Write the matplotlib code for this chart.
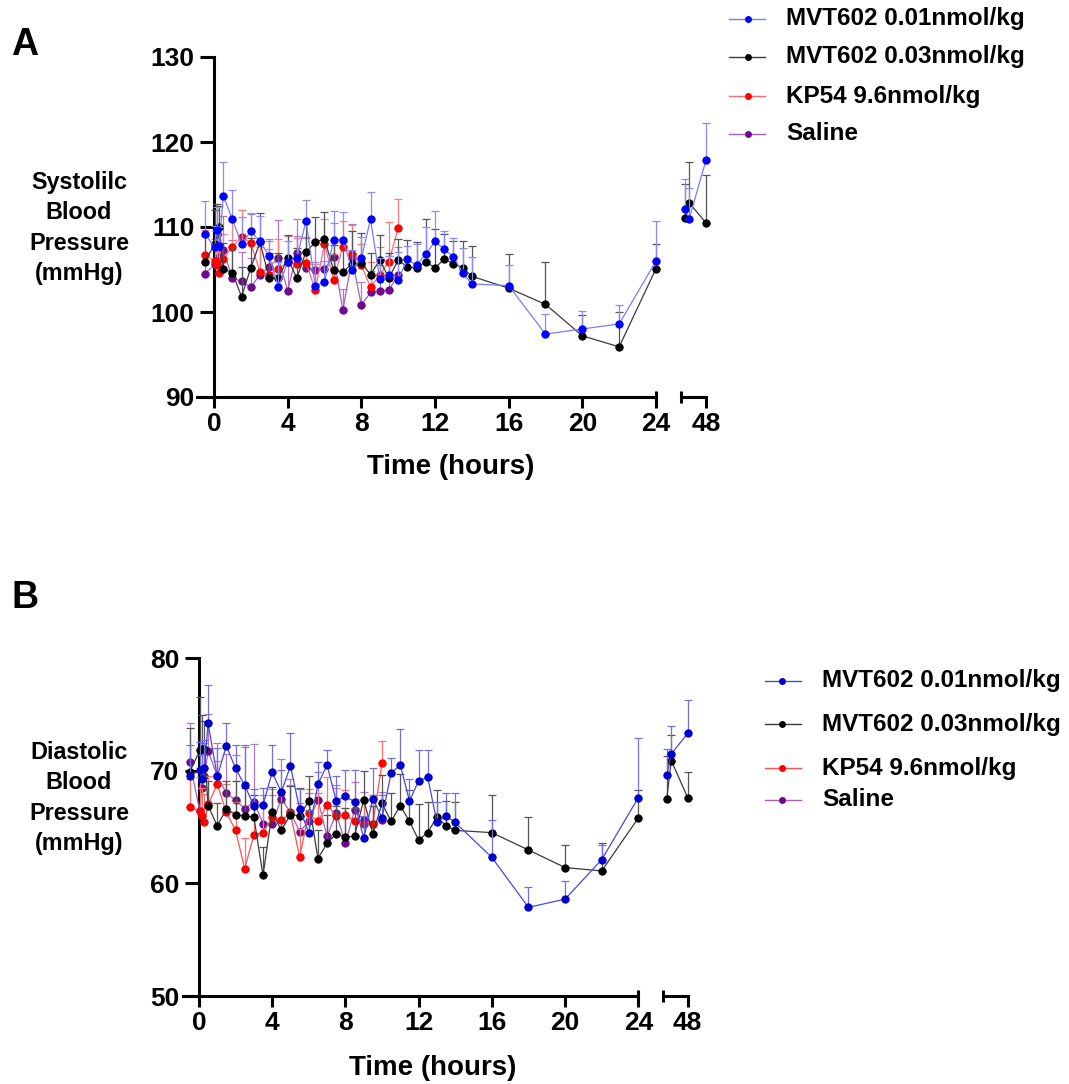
import numpy as np
import matplotlib
matplotlib.use("Agg")
import matplotlib.pyplot as plt
from matplotlib.lines import Line2D

plt.rcParams['font.family'] = ['Liberation Sans', 'DejaVu Sans']
plt.rcParams['font.weight'] = 'bold'
plt.rcParams['axes.linewidth'] = 2.2

# ---------------- data ----------------
series_names = ["MVT602 0.01nmol/kg", "MVT602 0.03nmol/kg", "KP54 9.6nmol/kg", "Saline"]

hours = [-0.5, 0.05, 0.15, 0.3, 0.5, 1.0, 1.5, 2.0, 2.5, 3.0, 3.5, 4.0, 4.5, 5.0,
         5.5, 6.0, 6.5, 7.0, 7.5, 8.0, 8.5, 9.0, 9.5, 10.0, 10.5, 11.0, 11.5, 12.0,
         12.5, 13.0, 13.5, 14.0, 16.0, 18.0, 20.0, 22.0, 24.0]
hours_short = hours[:24]
hours_late = [46.85, 47.1, 48.0]

# Systolic blood pressure (mmHg), mean and SEM
sbp_mvt001 = [109.2, 107.6, 109.6, 107.8, 113.7, 110.9, 108.0, 109.5, 108.3, 106.6, 102.9, 105.9,
              106.4, 110.7, 103.1, 103.5, 108.5, 108.5, 105.0, 106.3, 110.9, 103.9, 104.3, 103.8,
              106.2, 105.5, 106.8, 108.3, 107.4, 106.5, 104.6, 103.3, 103.1, 97.4, 98.0, 98.6, 106.0]
sbp_mvt001_sem = [3.9, 2.5, 2.8, 2.2, 4.0, 3.5, 3.2, 2.0, 3.0, 2.0, 3.0, 2.5, 2.5, 2.5, 2.8, 2.5,
                  3.4, 3.3, 2.3, 2.5, 3.2, 2.5, 2.3, 3.3, 1.6, 2.5, 3.2, 3.6, 2.1, 2.2, 2.9, 3.2,
                  2.4, 2.4, 2.1, 2.2, 4.7]
sbp_mvt003 = [105.9, 108.0, 109.2, 110.0, 105.1, 104.6, 101.8, 105.2, 108.2, 104.0, 104.0, 106.3,
              104.0, 107.1, 108.2, 108.6, 104.9, 104.7, 105.7, 105.8, 104.4, 106.1, 104.0, 106.1,
              105.3, 105.2, 105.9, 105.2, 106.2, 105.7, 105.2, 104.2, 102.8, 100.9, 97.2, 95.9, 105.1]
sbp_mvt003_sem = [3.0, 4.0, 3.5, 2.5, 3.0, 3.0, 3.5, 3.5, 3.4, 3.0, 3.0, 2.8, 3.5, 3.5, 3.0, 3.2,
                  3.0, 3.5, 3.8, 3.5, 2.5, 3.0, 3.0, 2.5, 3.2, 3.0, 5.1, 4.6, 3.0, 2.7, 3.1, 3.6,
                  4.0, 5.0, 2.4, 4.1, 2.9]
sbp_kp54 = [106.7, 106.0, 105.5, 104.6, 106.2, 107.7, 108.8, 108.1, 104.7, 104.4, 105.1, 105.9,
            105.7, 105.8, 102.6, 108.0, 103.8, 107.7, 106.8, 105.5, 102.9, 104.4, 105.9, 109.9]
sbp_kp54_sem = [3.0, 3.5, 3.0, 2.5, 3.0, 3.0, 3.2, 3.5, 3.0, 3.0, 3.5, 3.0, 3.0, 3.0, 3.0, 3.0,
                3.0, 3.0, 3.4, 2.5, 3.0, 3.2, 4.7, 3.4]
sbp_saline = [104.5, 105.6, 106.0, 106.5, 107.3, 104.0, 103.6, 102.9, 104.4, 105.3, 106.4, 102.5,
              106.9, 105.2, 105.0, 105.1, 106.5, 100.2, 106.3, 100.8, 102.3, 102.5, 102.6, 104.4]
sbp_saline_sem = [2.5, 3.0, 3.0, 3.5, 4.0, 4.5, 3.5, 3.5, 4.0, 3.0, 4.4, 3.5, 4.1, 3.5, 3.5, 3.0,
                  4.0, 2.5, 4.0, 2.7, 2.5, 3.0, 4.0, 3.3]
sbp_mvt001_late = [112.1, 111.0, 117.9]
sbp_mvt001_late_sem = [3.5, 3.6, 4.3]
sbp_mvt003_late = [111.1, 112.8, 110.5]
sbp_mvt003_late_sem = [4.0, 4.8, 5.6]

# Diastolic blood pressure (mmHg), mean and SEM
dbp_mvt001 = [69.5, 70.06, 69.23, 70.2, 74.2, 69.5, 72.2, 70.2, 68.7, 66.9, 66.95, 69.85, 68.1,
              70.4, 66.6, 64.5, 68.8, 70.5, 67.3, 67.75, 67.2, 64.0, 67.5, 65.8, 69.8, 70.5, 67.3,
              69.1, 69.4, 65.4, 66.0, 65.4, 62.3, 57.87, 58.6, 62.1, 67.6]
dbp_mvt001_sem = [2.8, 2.5, 2.2, 2.5, 3.4, 2.5, 2.0, 2.1, 3.6, 1.5, 1.5, 2.4, 2.0, 2.9, 1.8, 2.0,
                  2.0, 1.3, 2.2, 2.3, 2.9, 2.0, 2.7, 2.0, 1.3, 3.2, 2.0, 2.7, 2.4, 1.8, 2.0, 2.6,
                  3.3, 1.8, 1.6, 1.3, 5.3]
dbp_mvt003 = [69.9, 71.8, 71.9, 71.9, 66.9, 65.1, 66.6, 66.1, 66.0, 65.86, 60.7, 66.36, 64.7,
              66.1, 66.0, 67.3, 62.2, 63.55, 64.4, 64.1, 64.2, 67.4, 64.4, 67.1, 65.5, 66.9, 65.5,
              63.85, 64.5, 65.9, 65.1, 64.7, 64.5, 62.96, 61.4, 61.1, 65.8]
dbp_mvt003_sem = [3.9, 4.7, 3.0, 2.5, 2.2, 2.0, 2.5, 3.0, 2.5, 2.0, 2.5, 2.2, 2.5, 2.5, 2.5, 2.2,
                  2.5, 2.5, 2.5, 2.6, 2.5, 2.6, 2.5, 2.5, 2.5, 2.8, 2.8, 3.2, 2.7, 2.4, 2.2, 2.5,
                  3.3, 2.9, 2.0, 2.5, 2.5]
dbp_kp54 = [66.75, 66.4, 66.0, 65.4, 67.0, 68.8, 66.3, 64.7, 61.3, 64.3, 64.5, 65.86, 65.6, 66.2,
            62.34, 66.2, 65.5, 66.95, 66.0, 66.1, 65.5, 65.3, 65.3, 70.65]
dbp_kp54_sem = [2.5, 3.0, 2.5, 2.5, 2.5, 2.1, 2.5, 2.5, 2.7, 2.5, 2.5, 2.5, 2.2, 2.5, 2.5, 2.2,
                2.5, 2.5, 2.5, 2.2, 2.0, 2.2, 2.5, 2.0]
dbp_saline = [70.74, 66.4, 68.5, 69.5, 71.75, 69.5, 68.0, 67.4, 66.6, 67.25, 65.3, 65.3, 67.5,
              66.3, 64.6, 65.5, 67.4, 64.2, 66.2, 63.55, 66.5, 65.6, 65.3, 65.6]
dbp_saline_sem = [3.5, 3.0, 3.0, 3.0, 3.3, 3.0, 3.5, 4.0, 5.5, 5.1, 2.5, 2.5, 3.5, 3.0, 2.5, 2.5,
                  2.5, 2.5, 2.5, 2.5, 2.5, 2.5, 2.5, 2.5]
dbp_mvt001_late = [69.6, 71.5, 73.3]
dbp_mvt001_late_sem = [2.3, 2.5, 3.0]
dbp_mvt003_late = [67.5, 70.9, 67.6]
dbp_mvt003_late_sem = [3.8, 2.3, 2.3]

x_ticks = [0, 4, 8, 12, 16, 20, 24]

# ---------------- styles ----------------
style_a = {
    "mvt001": dict(mc="#0000ff", lc="#7a7aff", ec="#8a8aff", z=6),
    "mvt003": dict(mc="#000000", lc="#3a3a3a", ec="#555555", z=5),
    "kp54":   dict(mc="#ff0000", lc="#ff6a6a", ec="#ff7a7a", z=4),
    "saline": dict(mc="#6c0c8c", lc="#a860c0", ec="#b078c8", z=3),
}
style_b = {
    "mvt001": dict(mc="#0000cc", lc="#4848e0", ec="#7070e0", z=6),
    "mvt003": dict(mc="#000000", lc="#3a3a3a", ec="#555555", z=5),
    "kp54":   dict(mc="#ff0000", lc="#ff5050", ec="#ff7070", z=4),
    "saline": dict(mc="#6c0c8c", lc="#a860c0", ec="#b078c8", z=3),
}

TICK_FS = 19
W, H = 1069, 1084
fig = plt.figure(figsize=(W / 100, H / 100), dpi=100)


def fig_rect(x0, x1, ytop, ybot):
    return [x0 / W, 1 - ybot / H, (x1 - x0) / W, (ybot - ytop) / H]


def draw_series(ax, t, y, err, st):
    t = np.asarray(t, float)
    y = np.asarray(y, float)
    err = np.asarray(err, float)
    ax.errorbar(t, y, yerr=[np.zeros_like(err), err], fmt='none', ecolor=st["ec"],
                elinewidth=0.9, capsize=2.6, capthick=0.9, zorder=st["z"] - 0.5,
                clip_on=False)
    ax.plot(t, y, '-', color=st["lc"], lw=0.9, zorder=st["z"], clip_on=False)
    ax.plot(t, y, 'o', color=st["mc"], ms=6.0, mec='none', zorder=st["z"] + 0.2,
            clip_on=False)


def end_bar(ax, xpos, h):
    ax.plot([xpos, xpos], [-h, h], transform=ax.transAxes, color='black', lw=2.2,
            clip_on=False, solid_capstyle='butt', zorder=10)


def panel(rect1, rect2, xlim1, xlim2, ylim, yticks, sets, late_sets, styles):
    ax1 = fig.add_axes(rect1)
    ax2 = fig.add_axes(rect2)
    for key, (t, y, e) in sets.items():
        draw_series(ax1, t, y, e, styles[key])
    for key, (t, y, e) in late_sets.items():
        draw_series(ax2, t, y, e, styles[key])

    for ax in (ax1, ax2):
        ax.set_ylim(*ylim)
        ax.spines['top'].set_visible(False)
        ax.spines['right'].set_visible(False)
        ax.tick_params(axis='x', direction='out', length=8, width=2.2,
                       labelsize=TICK_FS, pad=3)
        ax.patch.set_alpha(0)

    ax1.set_xlim(*xlim1)
    ax1.set_xticks(x_ticks)
    ax1.set_xticklabels([str(v) for v in x_ticks])
    ax1.set_yticks(yticks)
    ax1.spines['left'].set_position(('data', 0))
    ax1.tick_params(axis='y', direction='out', length=10, width=2.2,
                    labelsize=TICK_FS, pad=4)

    ax2.set_xlim(*xlim2)
    ax2.set_xticks([48])
    ax2.set_xticklabels(["48"])
    ax2.set_yticks([])
    ax2.spines['left'].set_visible(False)

    hpx = 6.0
    end_bar(ax1, 1.0, hpx / (rect1[3] * H))
    end_bar(ax2, 0.0, hpx / (rect2[3] * H))
    return ax1, ax2


# ---------------- panel A ----------------
panel(fig_rect(197, 656, 57, 397), fig_rect(680.7, 706, 57, 397),
      (-0.92, 24), (46.63, 48), (90, 130), [90, 100, 110, 120, 130],
      {
          "saline": (hours_short, sbp_saline, sbp_saline_sem),
          "kp54": (hours_short, sbp_kp54, sbp_kp54_sem),
          "mvt003": (hours, sbp_mvt003, sbp_mvt003_sem),
          "mvt001": (hours, sbp_mvt001, sbp_mvt001_sem),
      },
      {
          "mvt003": (hours_late, sbp_mvt003_late, sbp_mvt003_late_sem),
          "mvt001": (hours_late, sbp_mvt001_late, sbp_mvt001_late_sem),
      }, style_a)

# ---------------- panel B ----------------
panel(fig_rect(183, 638.3, 658, 996), fig_rect(662.7, 687.7, 658, 996),
      (-0.87, 24), (46.63, 48), (50, 80), [50, 60, 70, 80],
      {
          "saline": (hours_short, dbp_saline, dbp_saline_sem),
          "kp54": (hours_short, dbp_kp54, dbp_kp54_sem),
          "mvt003": (hours, dbp_mvt003, dbp_mvt003_sem),
          "mvt001": (hours, dbp_mvt001, dbp_mvt001_sem),
      },
      {
          "mvt003": (hours_late, dbp_mvt003_late, dbp_mvt003_late_sem),
          "mvt001": (hours_late, dbp_mvt001_late, dbp_mvt001_late_sem),
      }, style_b)

# ---------------- labels ----------------
fig.text(25 / W, 1 - 45 / H, "A", fontsize=27, weight='bold', ha='center', va='center')
fig.text(25 / W, 1 - 598 / H, "B", fontsize=27, weight='bold', ha='center', va='center')

fig.text(79 / W, 1 - 228 / H, "Systolilc\nBlood\nPressure\n(mmHg)", fontsize=16.8,
         weight='bold', ha='center', va='center', linespacing=1.42)
fig.text(79 / W, 1 - 798 / H, "Diastolic\nBlood\nPressure\n(mmHg)", fontsize=16.8,
         weight='bold', ha='center', va='center', linespacing=1.42)

fig.text(451 / W, 1 - 467 / H, "Time (hours)", fontsize=20, weight='bold',
         ha='center', va='center')
fig.text(433 / W, 1 - 1068 / H, "Time (hours)", fontsize=20, weight='bold',
         ha='center', va='center')


# ---------------- legends ----------------
def legend(entries_y, x0, x1, xm, xt, styles):
    keys = ["mvt001", "mvt003", "kp54", "saline"]
    for key, name, yy in zip(keys, series_names, entries_y):
        st = styles[key]
        yf = 1 - yy / H
        fig.add_artist(Line2D([x0 / W, x1 / W], [yf, yf], transform=fig.transFigure,
                              color=st["lc"], lw=1.0))
        fig.add_artist(Line2D([xm / W], [yf], transform=fig.transFigure, marker='o',
                              ms=5, color=st["mc"], mec='none'))
        fig.text(xt / W, yf, name, fontsize=17.5, weight='bold', ha='left', va='center')


legend([19, 57, 96, 134], 729, 765, 748, 786, style_a)
legend([681, 724, 768, 800], 765, 801, 782, 822, style_b)

fig.savefig("out.png", dpi=100)
